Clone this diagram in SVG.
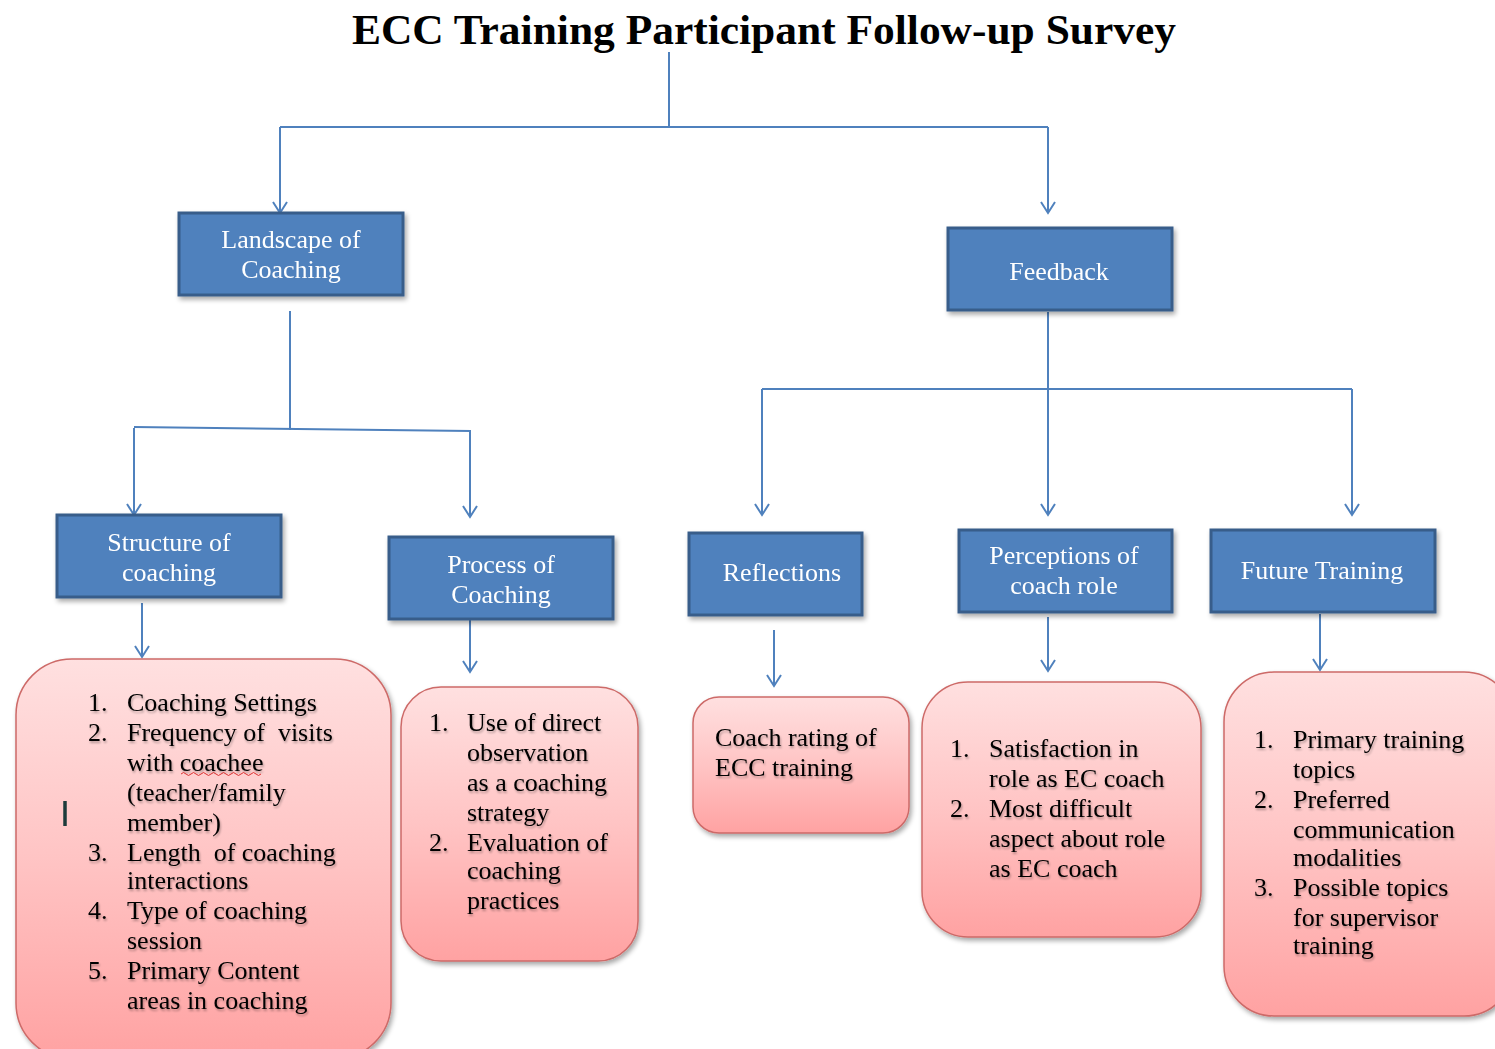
<svg xmlns="http://www.w3.org/2000/svg" width="1495" height="1049" viewBox="0 0 1495 1049">
  <defs>
    <!-- open chevron arrowhead, drawn pointing along +x so orient="auto" follows the line -->
    <marker id="vee" markerUnits="userSpaceOnUse" markerWidth="14" markerHeight="18" refX="12" refY="8" orient="auto" viewBox="0 0 14 16">
      <path d="M1,1 L12,8 L1,15" fill="none" stroke="#4f81bd" stroke-width="2"/>
    </marker>
    <linearGradient id="pink" x1="0" y1="0" x2="0" y2="1">
      <stop offset="0" stop-color="#ffe0e0"/>
      <stop offset="0.5" stop-color="#ffc4c4"/>
      <stop offset="1" stop-color="#ffa2a2"/>
    </linearGradient>
    <filter id="shadow" x="-10%" y="-10%" width="125%" height="125%">
      <feGaussianBlur in="SourceAlpha" stdDeviation="2.5"/>
      <feOffset dx="2" dy="3" result="b"/>
      <feComponentTransfer><feFuncA type="linear" slope="0.35"/></feComponentTransfer>
      <feMerge><feMergeNode/><feMergeNode in="SourceGraphic"/></feMerge>
    </filter>
    <filter id="tshadow" x="-5%" y="-20%" width="110%" height="140%">
      <feGaussianBlur in="SourceAlpha" stdDeviation="0.8"/>
      <feOffset dx="1" dy="1.5"/>
      <feComponentTransfer><feFuncA type="linear" slope="0.3"/></feComponentTransfer>
      <feMerge><feMergeNode/><feMergeNode in="SourceGraphic"/></feMerge>
    </filter>
  </defs>
  <style>
    .title { font-family: "Liberation Serif", "Times New Roman", serif; font-weight: bold; font-size: 43px; fill: #000; }
    .blue rect { fill: #4f81bd; stroke: #385d8a; stroke-width: 3; }
    .blue text { font-family: "Liberation Serif", "Times New Roman", serif; font-size: 26px; fill: #fff; text-anchor: middle; }
    .pinkbox .card { fill: url(#pink); stroke: #cd6a68; stroke-width: 1.5; }
    .pinkbox text { font-family: "Liberation Serif", "Times New Roman", serif; font-size: 26px; fill: #000; white-space: pre; }
    .conn { fill: none; stroke: #4f81bd; stroke-width: 2; }
  </style>

  <rect width="1495" height="1049" fill="#fff"/>

  <text class="title" x="352" y="44" textLength="824" lengthAdjust="spacingAndGlyphs">ECC Training Participant Follow-up Survey</text>

  <!-- connectors -->
  <g id="connectors">
    <path class="conn" d="M669,52 V127"/>
    <path class="conn" d="M280,127 H1048"/>
    <path class="conn" d="M280,127 V213" marker-end="url(#vee)"/>
    <path class="conn" d="M1048,127 V213" marker-end="url(#vee)"/>

    <path class="conn" d="M290,311 V430"/>
    <path class="conn" d="M134,427 L471,431"/>
    <path class="conn" d="M134,428 V515" marker-end="url(#vee)"/>
    <path class="conn" d="M470,431 V517" marker-end="url(#vee)"/>

    <path class="conn" d="M1048,312 V515" marker-end="url(#vee)"/>
    <path class="conn" d="M762,389 H1352"/>
    <path class="conn" d="M762,389 V515" marker-end="url(#vee)"/>
    <path class="conn" d="M1352,389 V515" marker-end="url(#vee)"/>

    <path class="conn" d="M142,603 V657" marker-end="url(#vee)"/>
    <path class="conn" d="M470,620 V672" marker-end="url(#vee)"/>
    <path class="conn" d="M774,630 V686" marker-end="url(#vee)"/>
    <path class="conn" d="M1048,617 V671" marker-end="url(#vee)"/>
    <path class="conn" d="M1320,614 V670" marker-end="url(#vee)"/>
  </g>

  <!-- category boxes -->
  <g id="landscape" class="blue" filter="url(#shadow)">
    <rect x="179" y="213" width="224" height="82"/>
    <text x="291" y="248">Landscape of</text>
    <text x="291" y="278">Coaching</text>
  </g>
  <g id="feedback" class="blue" filter="url(#shadow)">
    <rect x="948" y="228" width="224" height="82"/>
    <text x="1059" y="280">Feedback</text>
  </g>
  <g id="structure" class="blue" filter="url(#shadow)">
    <rect x="57" y="515" width="224" height="82"/>
    <text x="169" y="551">Structure of</text>
    <text x="169" y="581">coaching</text>
  </g>
  <g id="process" class="blue" filter="url(#shadow)">
    <rect x="389" y="537" width="224" height="82"/>
    <text x="501" y="573">Process of</text>
    <text x="501" y="603">Coaching</text>
  </g>
  <g id="reflections" class="blue" filter="url(#shadow)">
    <rect x="689" y="533" width="173" height="82"/>
    <text x="782" y="581">Reflections</text>
  </g>
  <g id="perceptions" class="blue" filter="url(#shadow)">
    <rect x="959" y="530" width="213" height="82"/>
    <text x="1064" y="564">Perceptions of</text>
    <text x="1064" y="594">coach role</text>
  </g>
  <g id="future" class="blue" filter="url(#shadow)">
    <rect x="1211" y="530" width="224" height="82"/>
    <text x="1322" y="579">Future Training</text>
  </g>

  <!-- detail boxes -->
  <g id="structure-items" class="pinkbox">
    <rect class="card" x="16" y="659" width="375" height="400" rx="56" ry="56" filter="url(#shadow)"/>
    <g filter="url(#tshadow)">
      <text x="88" y="711">1.</text><text x="127" y="711">Coaching Settings</text>
      <text x="88" y="741">2.</text><text x="127" y="741">Frequency of  visits</text>
      <text x="127" y="771">with coachee</text>
      <text x="127" y="801">(teacher/family</text>
      <text x="127" y="831">member)</text>
      <text x="88" y="861">3.</text><text x="127" y="861">Length  of coaching</text>
      <text x="127" y="889">interactions</text>
      <text x="88" y="919">4.</text><text x="127" y="919">Type of coaching</text>
      <text x="127" y="949">session</text>
      <text x="88" y="979">5.</text><text x="127" y="979">Primary Content</text>
      <text x="127" y="1009">areas in coaching</text>
    </g>
    <!-- spell-check squiggle under "coachee" and the text caret -->
    <path d="M181,774 q2.5,-3 5,0 t5,0 t5,0 t5,0 t5,0 t5,0 t5,0 t5,0 t5,0 t5,0 t5,0 t5,0 t5,0 t5,0 t5,0 t5,0" fill="none" stroke="#e03030" stroke-width="1"/>
    <path d="M65,801 V826" stroke="#1d3b3b" stroke-width="3.5"/>
  </g>

  <g id="process-items" class="pinkbox">
    <rect class="card" x="401" y="687" width="237" height="274" rx="40" ry="40" filter="url(#shadow)"/>
    <g filter="url(#tshadow)">
      <text x="429" y="731">1.</text><text x="467" y="731">Use of direct</text>
      <text x="467" y="761">observation</text>
      <text x="467" y="791">as a coaching</text>
      <text x="467" y="821">strategy</text>
      <text x="429" y="851">2.</text><text x="467" y="851">Evaluation of</text>
      <text x="467" y="879">coaching</text>
      <text x="467" y="909">practices</text>
    </g>
  </g>

  <g id="reflections-items" class="pinkbox">
    <rect class="card" x="693" y="697" width="216" height="136" rx="26" ry="26" filter="url(#shadow)"/>
    <g filter="url(#tshadow)">
      <text x="715" y="746">Coach rating of</text>
      <text x="715" y="776">ECC training</text>
    </g>
  </g>

  <g id="perceptions-items" class="pinkbox">
    <rect class="card" x="922" y="682" width="279" height="255" rx="46" ry="46" filter="url(#shadow)"/>
    <g filter="url(#tshadow)">
      <text x="950" y="757">1.</text><text x="989" y="757">Satisfaction in</text>
      <text x="989" y="787">role as EC coach</text>
      <text x="950" y="817">2.</text><text x="989" y="817">Most difficult</text>
      <text x="989" y="847">aspect about role</text>
      <text x="989" y="877">as EC coach</text>
    </g>
  </g>

  <g id="future-items" class="pinkbox">
    <rect class="card" x="1224" y="672" width="290" height="344" rx="50" ry="50" filter="url(#shadow)"/>
    <g filter="url(#tshadow)">
      <text x="1254" y="748">1.</text><text x="1293" y="748">Primary training</text>
      <text x="1293" y="778">topics</text>
      <text x="1254" y="808">2.</text><text x="1293" y="808">Preferred</text>
      <text x="1293" y="838">communication</text>
      <text x="1293" y="866">modalities</text>
      <text x="1254" y="896">3.</text><text x="1293" y="896">Possible topics</text>
      <text x="1293" y="926">for supervisor</text>
      <text x="1293" y="954">training</text>
    </g>
  </g>
</svg>
